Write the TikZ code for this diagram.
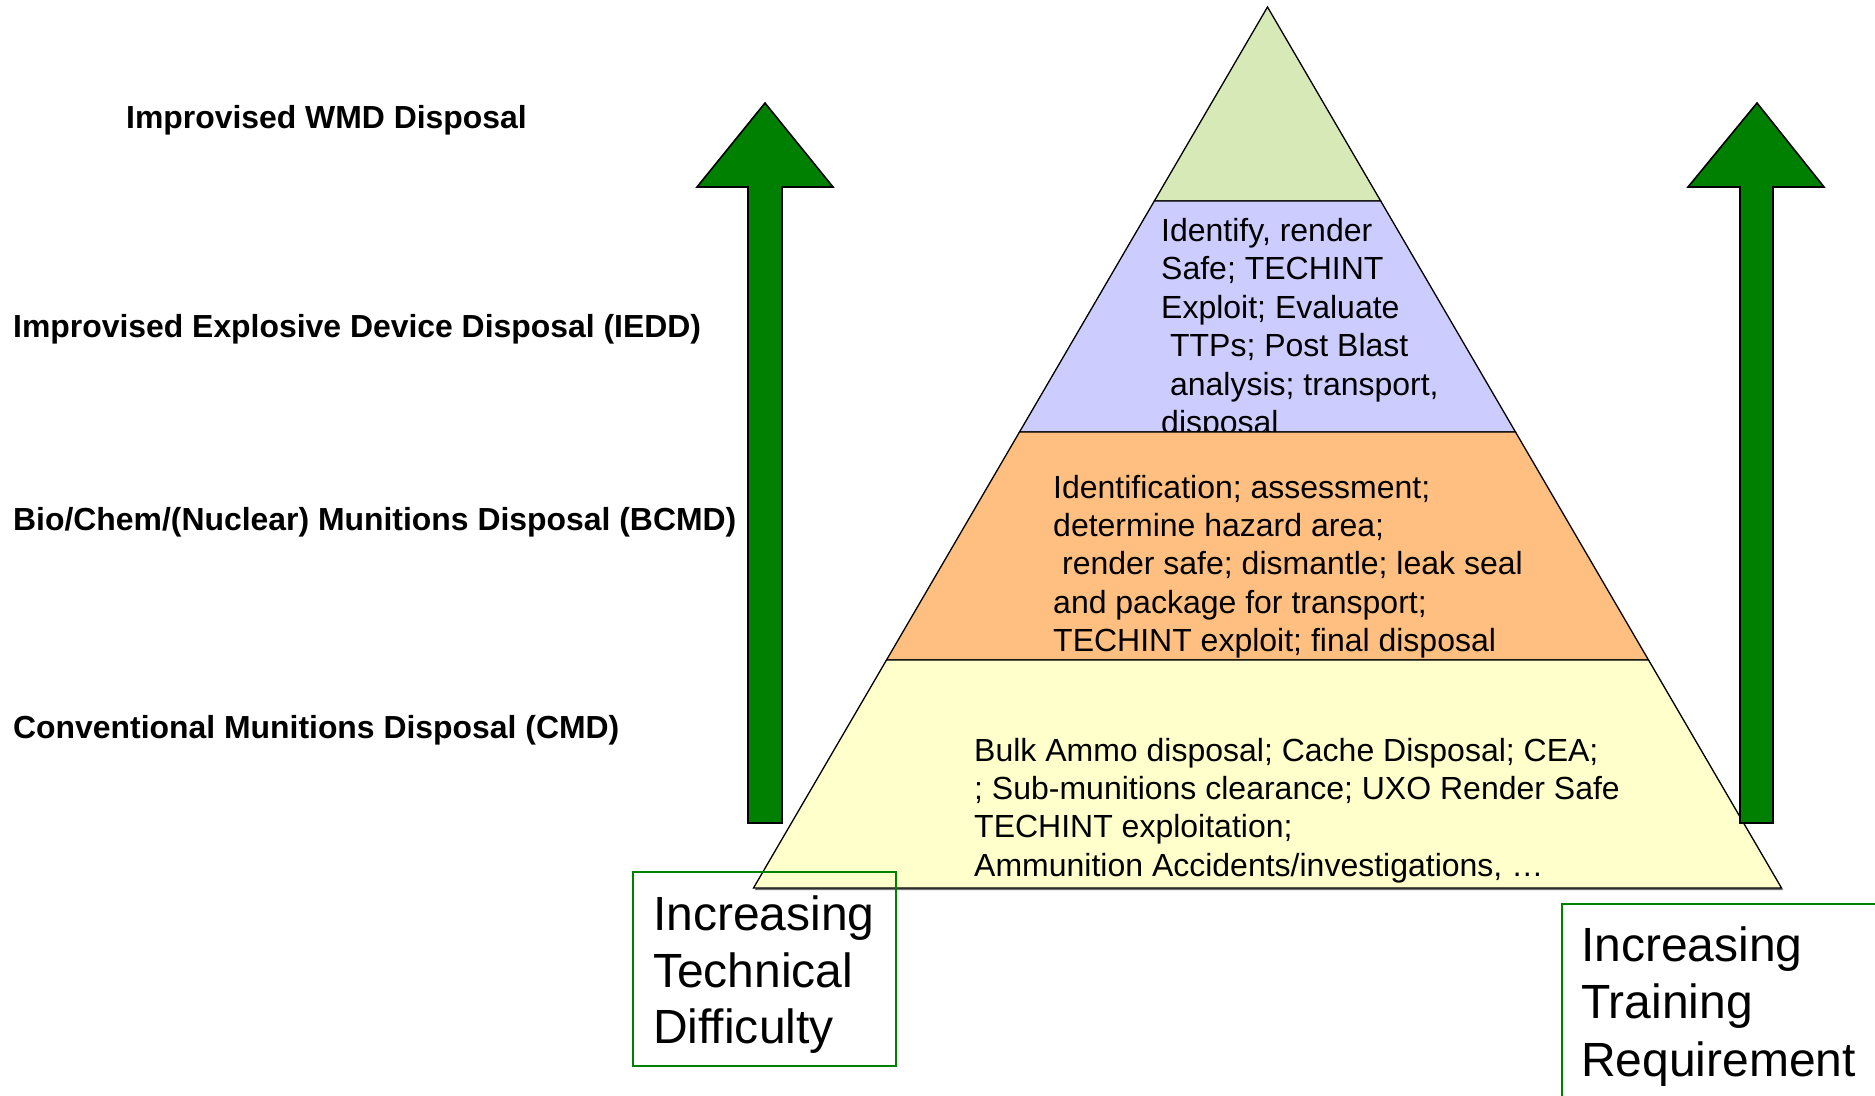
\documentclass[tikz,border=0pt]{standalone}
\usepackage{fontspec}
\setmainfont{Liberation Sans}
\definecolor{topgreen}{RGB}{216,233,184}
\definecolor{iedpurple}{RGB}{204,204,255}
\definecolor{bcorange}{RGB}{255,191,128}
\definecolor{cmdyellow}{RGB}{255,255,204}
\definecolor{arrowgreen}{RGB}{0,128,0}
\newcommand\pyrfont{\fontsize{32bp}{38bp}\selectfont}
\newcommand\lblfont{\fontsize{31.9bp}{38bp}\selectfont\bfseries}
\newcommand\boxfont{\fontsize{48bp}{57bp}\selectfont}
\tikzset{
  level/.style={draw=black, line width=1.3bp},
  txt/.style={anchor=base west, inner sep=0pt, font=\pyrfont},
  lbl/.style={anchor=base west, inner sep=0pt, font=\lblfont},
  bigtxt/.style={anchor=base west, inner sep=0pt, font=\boxfont},
  uparrow/.style={fill=arrowgreen, draw=black, line width=1.6bp, line join=miter},
  gbox/.style={draw=arrowgreen, line width=1.8bp}
}
\begin{document}
\begin{tikzpicture}[x=1bp,y=-1bp]
\useasboundingbox (0,0) rectangle (1875,1095);
\clip (0,0) rectangle (1875,1095);
\fill[white] (0,0) rectangle (1875,1095);

% left labels
\node[lbl] (wmd) at (126,128) {Improvised WMD Disposal};
\node[lbl] (iedd) at (13,337) {Improvised Explosive Device Disposal (IEDD)};
\node[lbl] (bcmd) at (13,530) {Bio/Chem/(Nuclear) Munitions Disposal (BCMD)};
\node[lbl] (cmd) at (13,738) {Conventional Munitions Disposal (CMD)};

% pyramid: top
\draw[level, fill=topgreen] (1267.5,7) -- (1380.7,201) -- (1154.3,201) -- cycle;
% IEDD level
\draw[level, fill=iedpurple] (1154.3,201) -- (1380.7,201) -- (1515.5,432) -- (1019.5,432) -- cycle;
\node[txt] (p1) at (1161,241) {Identify, render};
\node[txt] (p2) at (1161,279.5) {Safe; TECHINT};
\node[txt] (p3) at (1161,318) {Exploit; Evaluate};
\node[txt] (p4) at (1161,356.5) {\ TTPs; Post Blast};
\node[txt] (p5) at (1161,395) {\ analysis; transport,};
\node[txt] (p6) at (1161,433) {disposal};
% BCMD level
\draw[level, fill=bcorange] (1019.5,432) -- (1515.5,432) -- (1648.5,660) -- (886.5,660) -- cycle;
\node[txt] (o1) at (1053,498.5) {Identification; assessment;};
\node[txt] (o2) at (1053,536.5) {determine hazard area;};
\node[txt] (o3) at (1053,574.5) {\ render safe; dismantle; leak seal};
\node[txt] (o4) at (1053,613) {and package for transport;};
\node[txt] (o5) at (1053,651.5) {TECHINT exploit; final disposal};
% CMD level
\fill[black!55] (888.5,662.5) -- (1650.5,662.5) -- (1783,890) -- (755,890) -- cycle;
\draw[level, fill=cmdyellow] (886.5,660) -- (1648.5,660) -- (1781.5,888) -- (753.5,888) -- cycle;
\node[txt] (y1) at (974,761) {Bulk Ammo disposal; Cache Disposal; CEA;};
\node[txt] (y2) at (974,799) {; Sub-munitions clearance; UXO Render Safe};
\node[txt] (y3) at (974,837.5) {TECHINT exploitation;};
\node[txt] (y4) at (974,876) {Ammunition Accidents/investigations, …};

% arrows
\draw[uparrow] (748,823) -- (748,187) -- (697,187) -- (765,103) -- (833,187) -- (782,187) -- (782,823) -- cycle;
\draw[uparrow] (1740,823) -- (1740,187) -- (1688,187) -- (1757,103) -- (1824,187) -- (1773,187) -- (1773,823) -- cycle;

% boxes
\draw[gbox] (633,872) rectangle (896,1066);
\node[bigtxt] (t1) at (653,930) {Increasing};
\node[bigtxt] (t2) at (653,987) {Technical};
\node[bigtxt] (t3) at (653,1043) {Difficulty};

\draw[gbox] (1562,904) rectangle (1920,1130);
\node[bigtxt] (r1) at (1581,961) {Increasing};
\node[bigtxt] (r2) at (1581,1018) {Training};
\node[bigtxt] (r3) at (1581,1076) {Requirement};
\end{tikzpicture}
\end{document}
